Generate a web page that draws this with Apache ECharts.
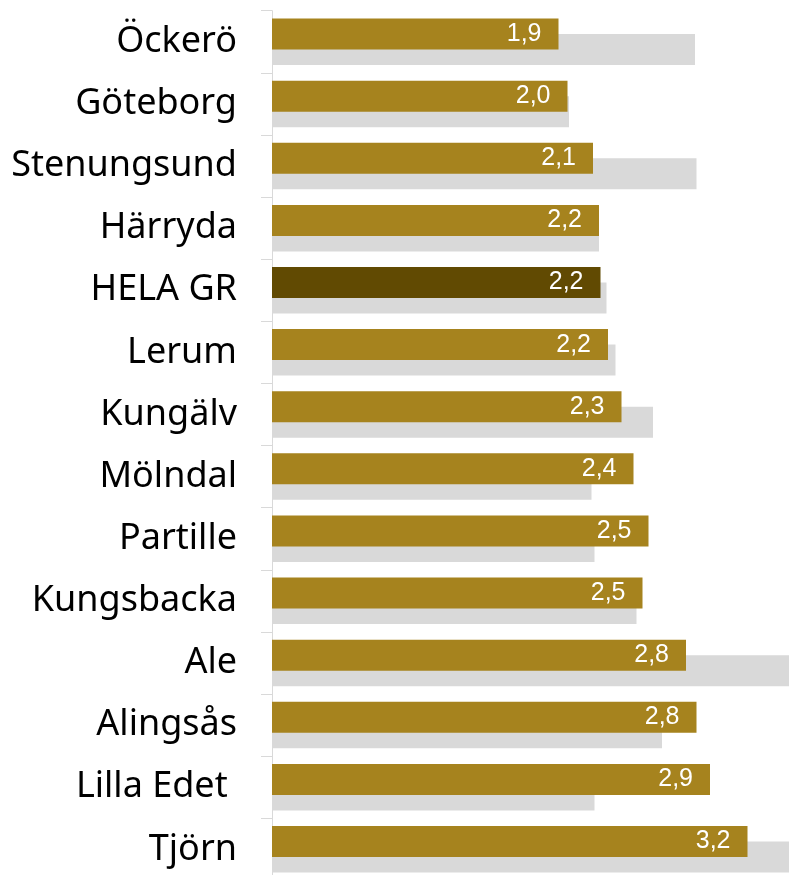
<!DOCTYPE html>
<html>
<head>
<meta charset="utf-8">
<script src="https://cdn.jsdelivr.net/npm/echarts@6/dist/echarts.min.js"></script>
<style>
html,body{margin:0;padding:0;background:#fff;}
#chart{width:789px;height:875px;}
</style>
</head>
<body>
<div id="chart"></div>
<script>
// kommuner, uppifrån och ned
const kommuner = ['Öckerö', 'Göteborg', 'Stenungsund', 'Härryda', 'HELA GR', 'Lerum', 'Kungälv',
  'Mölndal', 'Partille', 'Kungsbacka', 'Ale', 'Alingsås', 'Lilla Edet ', 'Tjörn'];
// guldstaplar (med etikett)
const varden = [1.91, 1.97, 2.14, 2.18, 2.19, 2.24, 2.33, 2.41, 2.51, 2.47, 2.76, 2.83, 2.92, 3.17];
// grå jämförelsestaplar
const jamfor = [2.82, 1.98, 2.83, 2.18, 2.23, 2.29, 2.54, 2.13, 2.15, 2.43, 3.5, 2.60, 2.15, 3.5];

const color = {
  gold: '#a6831e',
  dark: '#614a02',
  grey: '#d9d9d9'
};

const chart = echarts.init(document.getElementById('chart'));
chart.setOption({
  animation: false,
  grid: {
    left: 272,
    width: 525,
    top: 10.7,
    height: 869.7,
    outerBoundsMode: 'none',
    containLabel: false
  },
  xAxis: {
    type: 'value',
    min: 0,
    max: 3.5,
    show: false
  },
  yAxis: {
    type: 'category',
    inverse: true,
    data: kommuner,
    axisLine: {
      lineStyle: {color: color.grey, width: 1}
    },
    axisTick: {
      show: true,
      length: 11,
      lineStyle: {color: color.grey}
    },
    axisLabel: {
      margin: 35,
      fontSize: 36,
      fontFamily: 'Noto Sans',
      color: '#000'
    }
  },
  series: [
    {
      type: 'bar',
      data: varden,
      barWidth: 31,
      barGap: '-50%',
      itemStyle: {
        color: function (p) {
          return kommuner[p.dataIndex] === 'HELA GR' ? color.dark : color.gold;
        }
      },
      label: {
        show: true,
        position: 'insideRight',
        distance: 17,
        fontSize: 25,
        fontFamily: 'Liberation Sans',
        color: '#fff',
        formatter: function (p) {
          return p.value.toFixed(1).replace('.', ',');
        }
      },
      z: 3
    },
    {
      type: 'bar',
      data: jamfor,
      barWidth: 31,
      barGap: '-50%',
      itemStyle: {color: color.grey},
      z: 1
    }
  ]
});
</script>
</body>
</html>
